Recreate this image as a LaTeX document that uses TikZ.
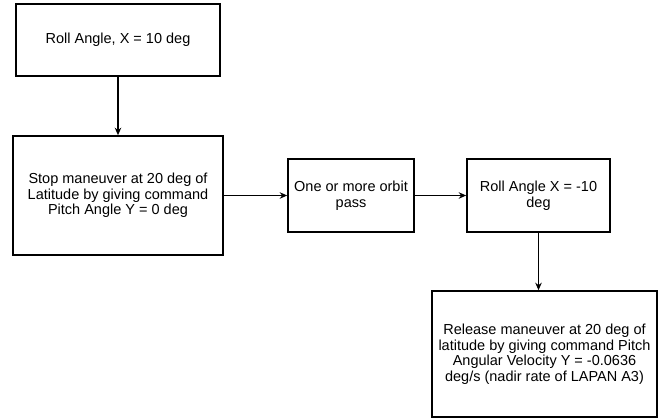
\documentclass[tikz,border=0pt]{standalone}
\usepackage{fontspec}
\setmainfont{Liberation Sans}
\usetikzlibrary{arrows.meta}
\tikzset{>={Stealth[length=7.5pt,width=6.5pt]}}
\tikzset{stepbox/.style={draw, line width=1.6pt, align=center, inner sep=0pt,
    font=\fontsize{14.5}{15.5}\selectfont}}

\begin{document}
\begin{tikzpicture}[x=1pt,y=-1pt]
      \useasboundingbox (0,0) rectangle (658,418);
      \node[stepbox, minimum width=204pt, minimum height=72pt] (roll) at (118,40) {Roll Angle, X = 10 deg};
      \node[stepbox, minimum width=210pt, minimum height=119pt] (stop) at (118,195.5) {Stop maneuver at 20 deg of\\Latitude by giving command\\Pitch Angle Y = 0 deg};
      \node[stepbox, minimum width=126pt, minimum height=73pt] (orbit) at (351,195.5) {One or more orbit\\pass};
      \node[stepbox, minimum width=143pt, minimum height=73pt] (rollneg) at (538.5,195.5) {Roll Angle X = -10\\deg};
      \node[stepbox, minimum width=225pt, minimum height=126pt] (release) at (544.5,354) {Release maneuver at 20 deg of\\latitude by giving command Pitch\\Angular Velocity Y = -0.0636\\deg/s (nadir rate of LAPAN A3)};
      \draw[->, line width=1.1pt] (roll) -- (stop);
      \draw[->, line width=1.8pt] (stop) -- (orbit);
      \draw[->, line width=1.8pt] (orbit) -- (rollneg);
      \draw[->, line width=1.1pt] (rollneg) -- (rollneg |- release.north);
    \end{tikzpicture}
\end{document}
